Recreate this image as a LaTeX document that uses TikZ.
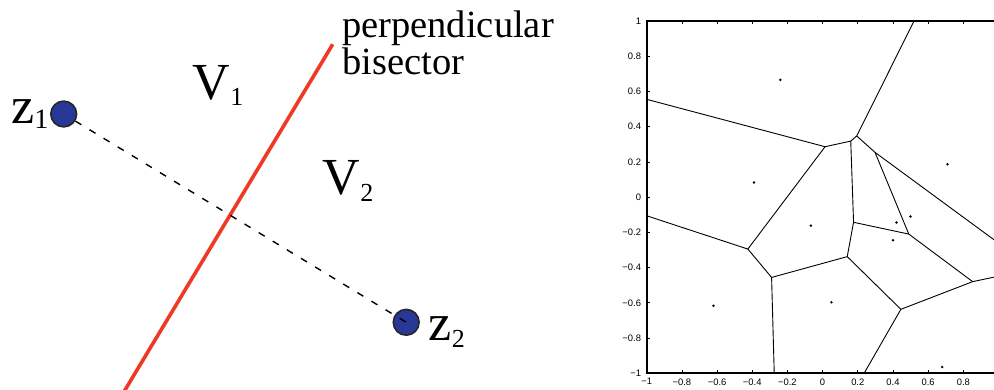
\documentclass[tikz,border=0pt]{standalone}
\usepackage{fontspec}
\setmainfont{Liberation Serif}
\newfontfamily\axisfont{Liberation Sans}
\definecolor{bisred}{RGB}{238,58,36}
\definecolor{zblue}{RGB}{40,56,150}
\begin{document}
\begin{tikzpicture}[x=1pt,y=-1pt,
  site/.style={circle,draw=black!85,line width=1.6pt,fill=zblue,minimum size=25.8pt,inner sep=0pt},
  biglbl/.style={anchor=base west,inner sep=0pt,font=\fontsize{52}{52}\selectfont},
  txtlbl/.style={anchor=base west,inner sep=0pt,font=\fontsize{38.5}{40}\selectfont},
  joinline/.style={black,line width=1.4pt,dash pattern=on 7pt off 9.5pt},
  bisline/.style={bisred,line width=3.6pt},
  vedge/.style={black,line width=0.9pt},
  axisframe/.style={black,line width=1.6pt},
  tickmark/.style={black,line width=0.7pt},
  ticklbl/.style={inner sep=0pt,font=\axisfont\fontsize{9.4}{10}\selectfont}]
\useasboundingbox (0,0) rectangle (994,390);
\clip (0,0) rectangle (994,390);

% ---------- left: two sites and bisector ----------
\coordinate (bisTop) at (332.7,44.3);
\coordinate (bisBot) at (119,400);
\draw[bisline] (bisTop) -- (bisBot);

\node[site] (z1) at (63.7,114) {};
\node[site] (z2) at (406.2,322.3) {};
\draw[joinline] (z1) -- (z2.center);

\node[biglbl] (z1lbl) at (11,123.3) {z\raisebox{-5.7pt}{\fontsize{28}{28}\selectfont 1}};
\node[biglbl] (z2lbl) at (428.6,341) {z\raisebox{-6.3pt}{\fontsize{26}{26}\selectfont 2}};
\node[biglbl] (v1lbl) at (192.5,100) {V\raisebox{-6pt}{\fontsize{26}{26}\selectfont 1}};
\node[biglbl] (v2lbl) at (322.5,195) {V\raisebox{-6.5pt}{\fontsize{26}{26}\selectfont 2}};
\node[txtlbl] (perp) at (342,37.3) {perpendicular};
\node[txtlbl] (bisec) at (342,75) {bisector};

% ---------- right: Voronoi diagram ----------
\begin{scope}[shift={(822.6pt,-197.1pt)},x=175.9pt,y=176.15pt]
  \coordinate (A) at (0.014,0.286);
  \coordinate (B) at (0.160,0.318);
  \coordinate (C) at (0.194,0.347);
  \coordinate (D) at (0.298,0.254);
  \coordinate (E) at (-0.425,-0.295);
  \coordinate (F) at (-0.290,-0.456);
  \coordinate (G) at (0.140,-0.338);
  \coordinate (H) at (0.176,-0.143);
  \coordinate (I) at (0.490,-0.210);
  \coordinate (J) at (0.853,-0.480);
  \coordinate (K) at (0.445,-0.637);
  \coordinate (eL1) at (-1,0.555);
  \coordinate (eT) at (0.52,1);
  \coordinate (eR1) at (1,-0.261);
  \coordinate (eL2) at (-1,-0.106);
  \coordinate (eB1) at (-0.275,-1);
  \coordinate (eR2) at (1,-0.449);
  \coordinate (eB2) at (0.236,-1);

  \draw[vedge] (eL1) -- (A) -- (B) -- (C) -- (eT);
  \draw[vedge] (C) -- (D) -- (eR1);
  \draw[vedge] (D) -- (I);
  \draw[vedge] (A) -- (E) -- (eL2);
  \draw[vedge] (E) -- (F) -- (eB1);
  \draw[vedge] (F) -- (G) -- (H) -- (B);
  \draw[vedge] (H) -- (I) -- (J) -- (eR2);
  \draw[vedge] (G) -- (K) -- (J);
  \draw[vedge] (K) -- (eB2);

  \foreach \px/\py in {-0.24/0.665,-0.39/0.083,0.71/0.186,-0.067/-0.162,0.42/-0.144,0.5/-0.11,0.4/-0.245,0.05/-0.597,-0.62/-0.617,0.68/-0.965}
    \fill (\px,\py) circle (1.35pt);

  \draw[axisframe] (-1,-1) rectangle (1,1);
  \foreach \t in {-0.8,-0.6,-0.4,-0.2,0,0.2,0.4,0.6,0.8} {
    \draw[tickmark] (\t,-1) -- ++(0,0.02);
    \draw[tickmark] (\t,1) -- ++(0,-0.02);
    \draw[tickmark] (-1,\t) -- ++(0.02,0);
  }
  \foreach \v/\l [count=\i] in {1/1,0.8/0.8,0.6/0.6,0.4/0.4,0.2/0.2,0/0,-0.2/−0.2,-0.4/−0.4,-0.6/−0.6,-0.8/−0.8,-1/−1}
    \node[ticklbl,anchor=east,xshift=-5.5pt] (yl\i) at (-1,\v) {\l};
  \foreach \v/\l [count=\i] in {-1/−1,-0.8/−0.8,-0.6/−0.6,-0.4/−0.4,-0.2/−0.2,0/0,0.2/0.2,0.4/0.4,0.6/0.6,0.8/0.8}
    \node[ticklbl,anchor=north,yshift=-5pt] (xl\i) at (\v,-1) {\l};
\end{scope}
\end{tikzpicture}
\end{document}
